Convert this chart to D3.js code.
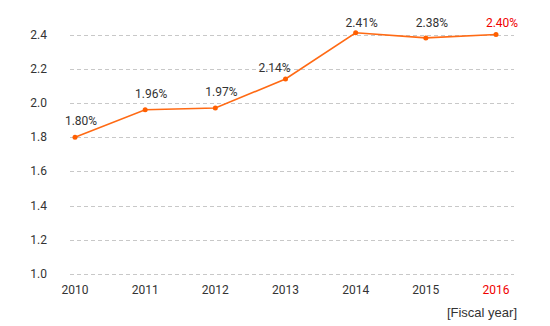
<!DOCTYPE html>
<html>
<head>
<meta charset="utf-8">
<script src="https://cdn.jsdelivr.net/npm/d3@7"></script>
<style>
  body { margin: 0; background: #fff; }
  text { font-family: Roboto, "Noto Sans", sans-serif; }
</style>
</head>
<body>
<div class="chart"></div>
<script>
// data
var years = ["2010", "2011", "2012", "2013", "2014", "2015", "2016"];
var rates = [1.80, 1.96, 1.97, 2.14, 2.41, 2.38, 2.40];
var yTicks = [1.0, 1.2, 1.4, 1.6, 1.8, 2.0, 2.2, 2.4];
var highlightYear = "2016";

var W = 550, H = 326;

var svg = d3.select(".chart")
  .append("svg")
    .attr("width", W)
    .attr("height", H);

// scales
var x = d3.scalePoint()
  .domain(years)
  .range([75, 496]);

var y = d3.scaleLinear()
  .domain([1.0, 2.4])
  .range([274, 34.5]);

// grid lines
svg.append("g")
  .selectAll("line")
  .data(yTicks)
  .enter().append("line")
    .attr("x1", 70)
    .attr("x2", 514)
    .attr("y1", function(d) { return Math.round(y(d)) + 0.5; })
    .attr("y2", function(d) { return Math.round(y(d)) + 0.5; })
    .attr("stroke", "#c8c8c8")
    .attr("stroke-width", 1)
    .attr("stroke-dasharray", "4,3");

// y axis labels
svg.append("g")
  .selectAll("text")
  .data(yTicks)
  .enter().append("text")
    .attr("x", 47)
    .attr("y", function(d) { return y(d) + 4; })
    .attr("text-anchor", "end")
    .attr("font-size", "12px")
    .attr("fill", "#333")
    .text(function(d) { return d.toFixed(1); });

// x axis labels
svg.append("g")
  .selectAll("text")
  .data(years)
  .enter().append("text")
    .attr("x", function(d) { return x(d); })
    .attr("y", 294)
    .attr("text-anchor", "middle")
    .attr("font-size", "12px")
    .attr("fill", function(d) { return d == highlightYear ? "#f00000" : "#333"; })
    .text(function(d) { return d; });

svg.append("text")
  .attr("x", 517)
  .attr("y", 317)
  .attr("text-anchor", "end")
  .attr("font-size", "13px")
  .attr("fill", "#333")
  .style("font-family", "'Liberation Sans', Arial, sans-serif")
  .text("[Fiscal year]");

var pts = years.map(function(yr, i) {
  return { year: yr, v: rates[i], next: rates[i + 1] };
});

// line
var line = d3.line()
  .x(function(d) { return x(d.year); })
  .y(function(d) { return y(d.v); });

svg.append("path")
  .datum(pts)
  .attr("fill", "none")
  .attr("stroke", "#ff6a14")
  .attr("stroke-width", 1.6)
  .attr("d", line);

svg.append("g")
  .selectAll("circle")
  .data(pts)
  .enter().append("circle")
    .attr("cx", function(d) { return x(d.year); })
    .attr("cy", function(d) { return y(d.v); })
    .attr("r", 2.5)
    .attr("fill", "#ff5f00");

// value labels - shift left when the next segment climbs steeply
function steep(d) { return d.next !== undefined && d.next - d.v > 0.2; }

svg.append("g")
  .selectAll("text")
  .data(pts)
  .enter().append("text")
    .attr("x", function(d) { return x(d.year) + (steep(d) ? -11 : 6); })
    .attr("y", function(d) {
      if (steep(d)) return y(d.v) - 7;
      return Math.max(y(d.v) - 12, 27);
    })
    .attr("text-anchor", "middle")
    .attr("font-size", "12px")
    .attr("fill", function(d) { return d.year == highlightYear ? "#f00000" : "#333"; })
    .text(function(d) { return d.v.toFixed(2) + "%"; });
</script>
</body>
</html>
